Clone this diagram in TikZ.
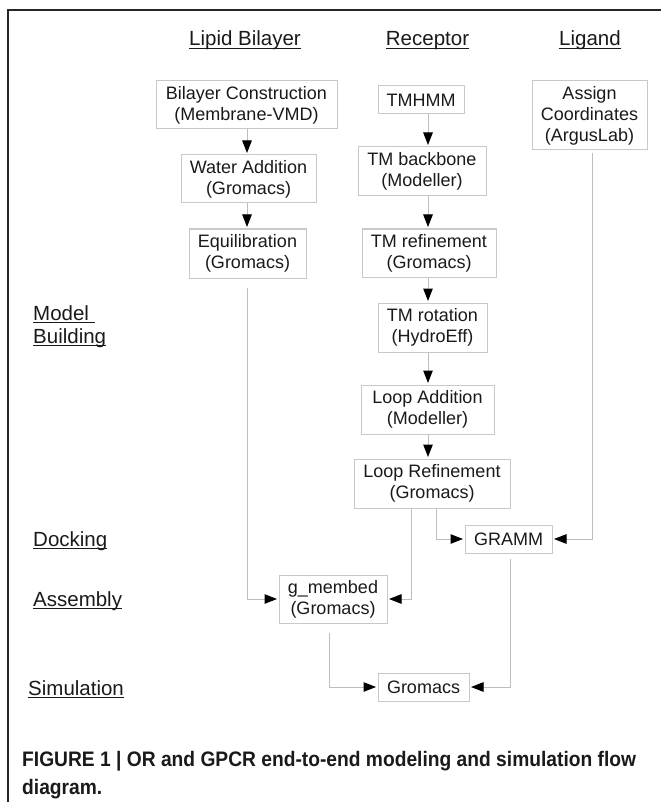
\documentclass[tikz,border=0pt]{standalone}
\usepackage{fontspec}
\setmainfont{Liberation Sans}
\usetikzlibrary{arrows.meta,calc}
\definecolor{boxline}{HTML}{C8C8C8}
\definecolor{connline}{HTML}{BDBDBD}
\definecolor{txt}{HTML}{1A1A1A}
\newcommand\myul[1]{\setbox0\hbox{#1}\rlap{\rule[-2.8pt]{\wd0}{1pt}}\box0}
\tikzset{
  stepbox/.style={draw=boxline, line width=1pt, fill=white, inner sep=0pt, align=center,
    text=txt, font=\fontsize{18}{21}\selectfont},
  heading/.style={anchor=base, inner sep=0pt, text=txt, font=\fontsize{20.5}{23}\selectfont},
  phase/.style={anchor=base west, inner sep=0pt, text=txt, font=\fontsize{20.5}{23}\selectfont},
  conn/.style={draw=connline, line width=1pt, -{Triangle[length=12.5pt,width=9.5pt,color=black]}, shorten >=1.5pt},
  frame/.style={draw=black!85, line width=1.3pt}
}
\begin{document}
\begin{tikzpicture}[x=1pt,y=-1pt]
\useasboundingbox (0,0) rectangle (661,802);
% frame
\draw[frame] (661,10) -- (8,10) -- (8,802);
% headings
\node[heading] (hlip) at (245,46) {\myul{Lipid Bilayer}};
\node[heading] (hrec) at (427.5,46) {\myul{Receptor}};
\node[heading] (hlig) at (590,46) {\myul{Ligand}};
% phase labels
\node[phase] (mb1) at (33,320) {\myul{Model\ }};
\node[phase] (mb2) at (33,343) {\myul{Building}};
\node[phase] (dock) at (33,546) {\myul{Docking}};
\node[phase] (asm) at (33,606) {\myul{Assembly}};
\node[phase] (sim) at (28,695) {\myul{Simulation}};
% lipid column
\node[stepbox, minimum width=181, minimum height=48] (bc) at (246.5,105) {Bilayer Construction\\(Membrane-VMD)};
\node[stepbox, minimum width=135, minimum height=48] (wa) at (248.5,179) {Water Addition\\(Gromacs)};
\node[stepbox, minimum width=117, minimum height=49] (eq) at (247.5,253.5) {Equilibration\\(Gromacs)};
% receptor column
\node[stepbox, minimum width=86, minimum height=28] (tmhmm) at (421,100) {TMHMM};
\node[stepbox, minimum width=128, minimum height=49] (tmb) at (422,171.5) {TM backbone\\(Modeller)};
\node[stepbox, minimum width=134, minimum height=48] (tmr) at (429,253) {TM refinement\\(Gromacs)};
\node[stepbox, minimum width=109, minimum height=49] (tmrot) at (432.5,327.5) {TM rotation\\(HydroEff)};
\node[stepbox, minimum width=133, minimum height=49] (la) at (427.5,409.5) {Loop Addition\\(Modeller)};
\node[stepbox, minimum width=156, minimum height=49] (lr) at (432,483.5) {Loop Refinement\\(Gromacs)};
% ligand
\node[stepbox, minimum width=115, minimum height=69] (ac) at (589.5,115.5) {Assign\\Coordinates\\(ArgusLab)};
% lower part
\node[stepbox, minimum width=87, minimum height=28] (gramm) at (508.5,539) {GRAMM};
\node[stepbox, minimum width=108, minimum height=48] (gm) at (333,599) {g\_membed\\(Gromacs)};
\node[stepbox, minimum width=91, minimum height=28] (gro) at (423.5,687) {Gromacs};
% helper x positions
\coordinate (xl) at (247,0);
\coordinate (xr) at (428,0);
\coordinate (xlr1) at (411,0);
\coordinate (xlr2) at (436,0);
\coordinate (xac) at (592,0);
\coordinate (xgr) at (510,0);
\coordinate (xgm) at (329,0);
% lipid arrows
\draw[conn] (bc.south -| xl) -- (wa.north -| xl);
\draw[conn] (wa.south -| xl) -- (eq.north -| xl);
% receptor arrows
\draw[conn] (tmhmm.south -| xr) -- (tmb.north -| xr);
\draw[conn] (tmb.south -| xr) -- (tmr.north -| xr);
\draw[conn] (tmr.south -| xr) -- (tmrot.north -| xr);
\draw[conn] (tmrot.south -| xr) -- (la.north -| xr);
\draw[conn] (la.south -| xr) -- (lr.north -| xr);
% merging connectors
\draw[conn, shorten <=9pt] (eq.south -| xl) |- (gm.west);
\draw[conn] (lr.south -| xlr1) |- (gm.east);
\draw[conn] (lr.south -| xlr2) |- (gramm.west);
\draw[conn, shorten <=3pt] (ac.south -| xac) |- (gramm.east);
\draw[conn, shorten <=5pt] (gramm.south -| xgr) |- (gro.east);
\draw[conn, shorten <=9pt] (gm.south -| xgm) |- (gro.west);
% caption
\node[anchor=base west, inner sep=0pt, text=txt, font=\fontsize{21}{25}\bfseries] (cap1) at (22,766)
  {\scalebox{0.915}[1]{FIGURE 1 | OR and GPCR end-to-end modeling and simulation flow}};
\node[anchor=base west, inner sep=0pt, text=txt, font=\fontsize{21}{25}\bfseries] (cap2) at (22,794)
  {\scalebox{0.915}[1]{diagram.}};
\end{tikzpicture}
\end{document}
